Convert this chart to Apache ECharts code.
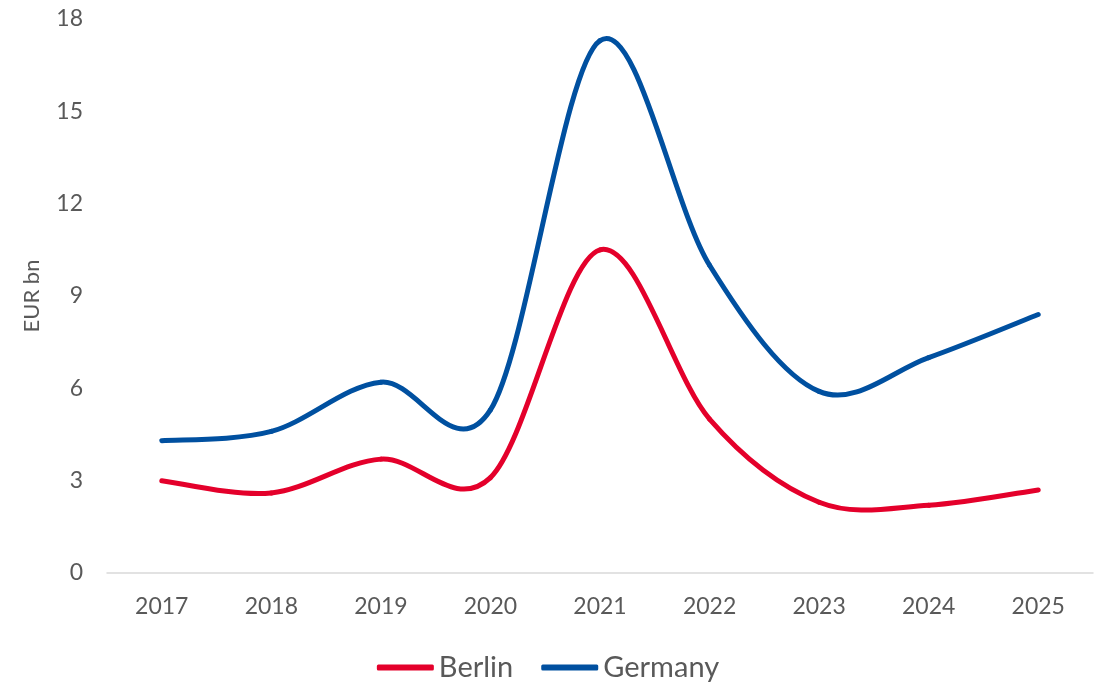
<!DOCTYPE html>
<html>
<head>
<meta charset="utf-8">
<script src="https://cdn.jsdelivr.net/npm/echarts@6/dist/echarts.min.js"></script>
<style>
  html, body { margin: 0; padding: 0; background: #fff; }
  #chart { width: 1096px; height: 685px; }
</style>
</head>
<body>
<div id="chart"></div>
<script>
// Annual volumes, EUR bn
const years = ['2017', '2018', '2019', '2020', '2021', '2022', '2023', '2024', '2025'];
const berlin = [3.0, 2.6, 3.7, 3.1, 10.5, 5.0, 2.3, 2.2, 2.7];
const germany = [4.3, 4.6, 6.2, 5.3, 17.3, 10.0, 5.9, 7.0, 8.4];
const yTicks = [0, 3, 6, 9, 12, 15, 18];

const textColor = '#595959';
const font = 'Lato, "Open Sans", sans-serif';
const RED = '#E4002B';
const BLUE = '#0050A0';

// Smooth curve through every point (Catmull-Rom style cubic segments),
// one Bezier segment per data item, placed via the chart's own axes.
function smoothSegment(values, color) {
  return function (params, api) {
    const i = params.dataIndex;
    const n = values.length;
    if (i >= n - 1) return null;
    const pt = k => {
      const j = Math.max(0, Math.min(n - 1, k));
      return api.coord([j, values[j]]);
    };
    const p0 = pt(i - 1), p1 = pt(i), p2 = pt(i + 1), p3 = pt(i + 2);
    const t = 1 / 6;
    return {
      type: 'bezierCurve',
      shape: {
        x1: p1[0], y1: p1[1],
        x2: p2[0], y2: p2[1],
        cpx1: p1[0] + (p2[0] - p0[0]) * t,
        cpy1: p1[1] + (p2[1] - p0[1]) * t,
        cpx2: p2[0] - (p3[0] - p1[0]) * t,
        cpy2: p2[1] - (p3[1] - p1[1]) * t
      },
      style: { stroke: color, lineWidth: 5, fill: null, lineCap: 'round', lineJoin: 'round' }
    };
  };
}

const chart = echarts.init(document.getElementById('chart'), null, { renderer: 'canvas' });

chart.setOption({
  animation: false,
  grid: { left: 107, right: 3, top: 19, bottom: 112 },
  legend: {
    bottom: -2,
    left: 'center',
    itemWidth: 57,
    itemHeight: 6,
    itemGap: 28,
    icon: 'roundRect',
    textStyle: { color: textColor, fontSize: 29, fontFamily: font },
    data: ['Berlin', 'Germany']
  },
  xAxis: {
    type: 'category',
    data: years,
    boundaryGap: true,
    axisLine: { lineStyle: { color: '#d9d9d9', width: 1.5 } },
    axisTick: { show: false },
    axisLabel: { color: textColor, fontSize: 23, fontFamily: font, margin: 22 }
  },
  yAxis: {
    type: 'value',
    min: yTicks[0],
    max: yTicks[yTicks.length - 1],
    interval: 3,
    name: 'EUR bn',
    nameLocation: 'middle',
    nameGap: 64,
    nameTextStyle: { color: textColor, fontSize: 22, fontFamily: font },
    splitLine: { show: false },
    axisLine: { show: false },
    axisTick: { show: false },
    axisLabel: { color: textColor, fontSize: 23, fontFamily: font, margin: 24 }
  },
  series: [
    {
      name: 'Berlin',
      type: 'custom',
      data: berlin.map((v, i) => [i, v]),
      encode: { x: 0, y: 1 },
      renderItem: smoothSegment(berlin, RED),
      itemStyle: { color: RED }
    },
    {
      name: 'Germany',
      type: 'custom',
      data: germany.map((v, i) => [i, v]),
      encode: { x: 0, y: 1 },
      renderItem: smoothSegment(germany, BLUE),
      itemStyle: { color: BLUE }
    }
  ]
});
</script>
</body>
</html>
